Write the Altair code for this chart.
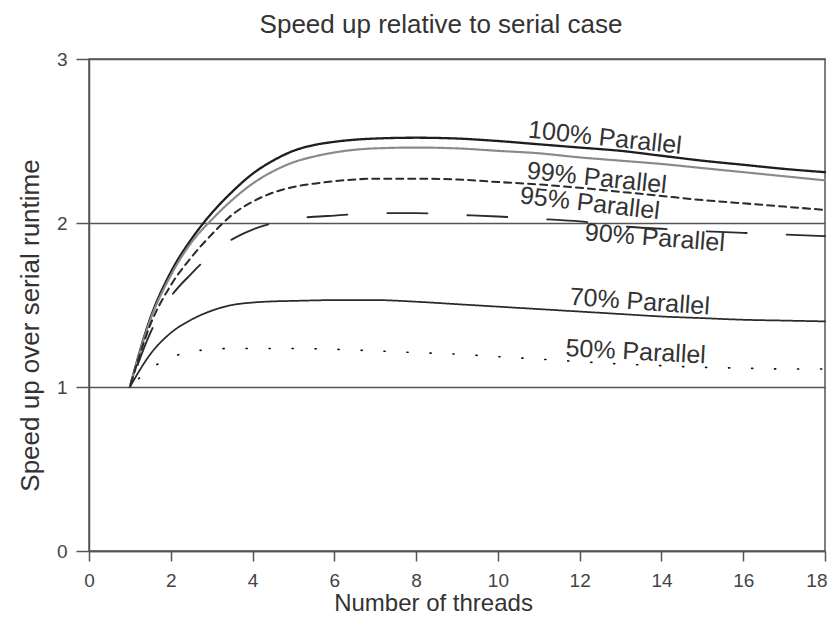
import altair as alt
import pandas as pd

threads = [1, 1.5, 2, 2.5, 3, 3.5, 4, 4.5, 5, 5.5, 6, 7, 8, 9, 10, 11, 12, 13, 14, 15, 16, 17, 18]

series_names = ["100% Parallel", "99% Parallel", "95% Parallel", "90% Parallel", "70% Parallel", "50% Parallel"]

s100 = [1.00, 1.42, 1.70, 1.90, 2.06, 2.19, 2.30, 2.38, 2.44, 2.475, 2.495, 2.515, 2.52, 2.515, 2.50, 2.48, 2.46, 2.44, 2.41, 2.38, 2.355, 2.33, 2.31]
s99 = [1.00, 1.41, 1.68, 1.88, 2.02, 2.14, 2.24, 2.315, 2.37, 2.405, 2.43, 2.455, 2.46, 2.455, 2.44, 2.425, 2.40, 2.38, 2.36, 2.335, 2.31, 2.285, 2.26]
s95 = [1.00, 1.38, 1.62, 1.79, 1.93, 2.05, 2.13, 2.185, 2.22, 2.24, 2.255, 2.27, 2.27, 2.265, 2.25, 2.235, 2.215, 2.19, 2.165, 2.14, 2.12, 2.10, 2.08]
s90 = [1.00, 1.33, 1.55, 1.69, 1.81, 1.90, 1.96, 2.00, 2.025, 2.038, 2.045, 2.06, 2.06, 2.05, 2.04, 2.025, 2.01, 1.98, 1.965, 1.95, 1.94, 1.93, 1.92]
s70 = [1.00, 1.20, 1.33, 1.41, 1.465, 1.50, 1.515, 1.522, 1.525, 1.528, 1.53, 1.53, 1.52, 1.505, 1.49, 1.475, 1.46, 1.445, 1.43, 1.42, 1.41, 1.405, 1.40]
s50 = [1.00, 1.11, 1.18, 1.215, 1.23, 1.235, 1.235, 1.235, 1.235, 1.233, 1.23, 1.22, 1.21, 1.20, 1.185, 1.17, 1.155, 1.14, 1.13, 1.12, 1.115, 1.11, 1.11]

label_x = [12.62, 12.42, 12.25, 13.84, 13.47, 13.37]
label_y = [2.52, 2.275, 2.12, 1.91, 1.52, 1.215]
label_angle = [6, 6, 6.5, 4.5, 4, 3]

x_ticks = [0, 2, 4, 6, 8, 10, 12, 14, 16, 18]
y_ticks = [0, 1, 2, 3]

all_series = [s100, s99, s95, s90, s70, s50]
rows = []
for name, vals in zip(series_names, all_series):
    for t, v in zip(threads, vals):
        rows.append({"threads": t, "speedup": v, "series": name})
df = pd.DataFrame(rows)

labels_df = pd.DataFrame({
    "series": series_names,
    "x": label_x,
    "y": label_y,
    "angle": label_angle,
})

FONT = "Liberation Sans"

x_scale = alt.Scale(domain=[0, 18], nice=False, zero=False)
y_scale = alt.Scale(domain=[0, 3], nice=False)

lines = alt.Chart(df).mark_line(interpolate="monotone", strokeCap="round", strokeDashOffset=57).encode(
    x=alt.X("threads:Q", scale=x_scale,
            axis=alt.Axis(values=x_ticks, title="Number of threads", grid=False,
                          tickSize=10, labelPadding=25, labelBaseline="alphabetic",
                          titleX=344, titleY=59, titleBaseline="alphabetic", titleFontSize=24,
                          labelFlush=False, format="d",
                          labelAlign={"expr": "datum.value == 18 ? 'right' : 'center'"},
                          labelOffset={"expr": "datum.value == 18 ? 2 : 0"})),
    y=alt.Y("speedup:Q", scale=y_scale,
            axis=alt.Axis(values=y_ticks, title="Speed up over serial runtime", grid=True,
                          tickSize=13, labelPadding=9, titleX=-51, titleY=266,
                          titleBaseline="alphabetic", titleAngle=270, format="d")),
    detail="series:N",
    color=alt.Color("series:N", scale=alt.Scale(domain=series_names,
                    range=["#1e1e1e", "#8a8a8a", "#2a2a2a", "#2a2a2a", "#2a2a2a", "#111111"]), legend=None),
    strokeWidth=alt.StrokeWidth("series:N", scale=alt.Scale(domain=series_names,
                    range=[2.3, 1.6, 1.8, 2.0, 1.1, 3.2]), legend=None),
    strokeDash=alt.StrokeDash("series:N", scale=alt.Scale(domain=series_names,
                    range=[[1, 0], [1, 0], [7, 5], [40, 40], [1, 0], [1.2, 21.8]]), legend=None),
)

texts = alt.Chart(labels_df).mark_text(font=FONT, fontSize=25, color="#333333",
                                       align="center", baseline="middle").encode(
    x=alt.X("x:Q", scale=x_scale),
    y=alt.Y("y:Q", scale=y_scale),
    text="series:N",
    angle=alt.Angle("angle:Q", scale=None),
)

chart = alt.layer(lines, texts).properties(
    width=736,
    height=492,
    title=alt.Title("Speed up relative to serial case", font=FONT, fontSize=26,
                    fontWeight="normal", color="#333333", anchor="middle", dx=-16, offset=12),
    autosize=alt.AutoSizeParams(type="none"),
    padding={"left": 81, "top": 51, "right": 2, "bottom": 64},
).configure_view(
    stroke="#555555", strokeWidth=1.5
).configure_axis(
    labelFont=FONT, labelFontSize=19, labelColor="#444444",
    titleFont=FONT, titleFontSize=26, titleFontWeight="normal", titleColor="#333333",
    domainColor="#555555", domainWidth=1.5, tickColor="#555555", tickWidth=1.5,
    gridColor="#555555", gridWidth=1.5, gridOpacity=1,
)

chart.save("out.html", embed_options={"renderer": "svg", "actions": False})
